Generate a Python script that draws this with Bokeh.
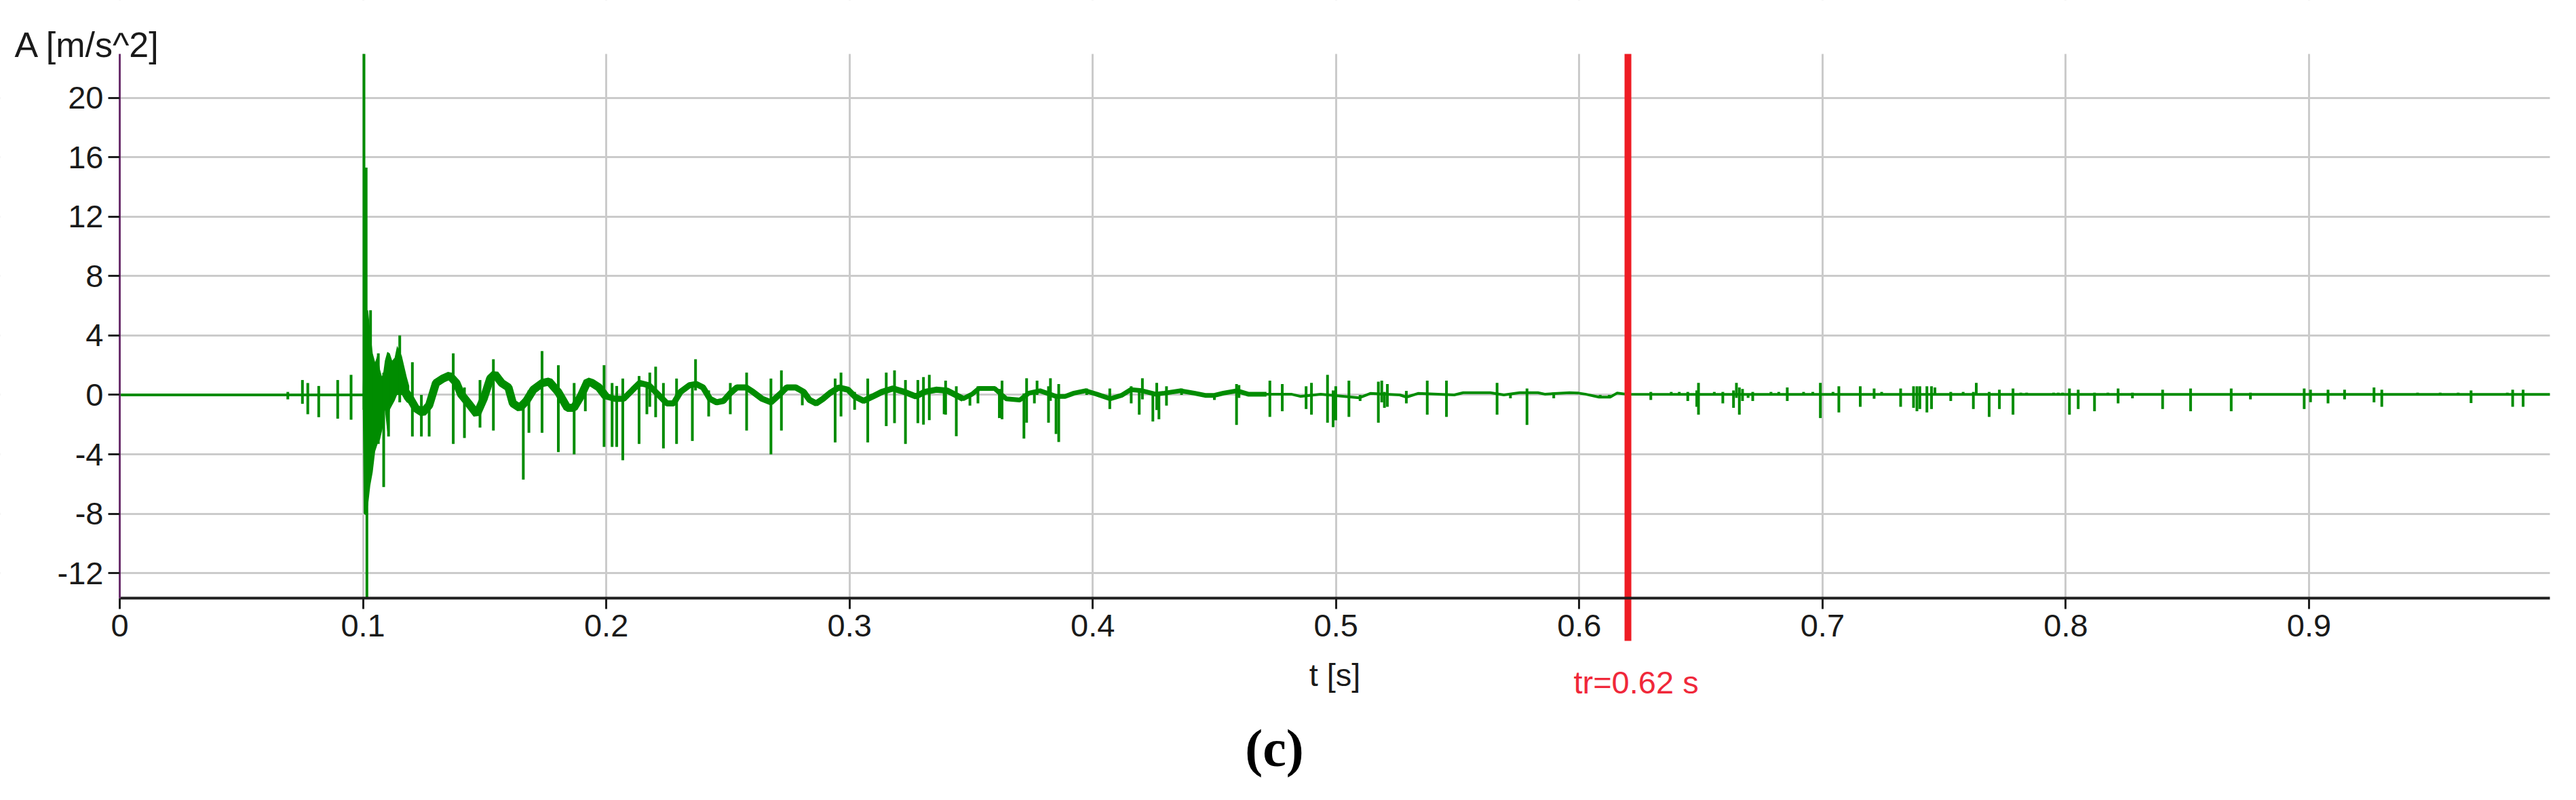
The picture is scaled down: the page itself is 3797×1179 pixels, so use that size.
from bokeh.plotting import figure
from bokeh.models import Range1d, FixedTicker, Label, BoxAnnotation
from bokeh.embed import file_html
from bokeh.resources import INLINE

# ---------------- data ----------------
x_ticks = [0.0, 0.1, 0.2, 0.3, 0.4, 0.5, 0.6, 0.7, 0.8, 0.9]
x_tick_labels = ["0", "0.1", "0.2", "0.3", "0.4", "0.5", "0.6", "0.7", "0.8", "0.9"]
y_ticks = [-12, -8, -4, 0, 4, 8, 12, 16, 20]
y_tick_labels = ["-12", "-8", "-4", "0", "4", "8", "12", "16", "20"]

t_min, t_max = 0.0, 0.999
a_min, a_max = -13.68, 22.95
tr_time = 0.62

# slow baseline of the acceleration signal
base_t = [0.0, 0.0995, 0.1003, 0.1114, 0.1142, 0.1161, 0.1189, 0.1217, 0.1245, 0.1272,
          0.1300, 0.1328, 0.1356, 0.1384, 0.1403, 0.1440, 0.1468, 0.1496, 0.1523, 0.1542,
          0.1570, 0.1598, 0.1616, 0.1644, 0.1672, 0.1700, 0.1737, 0.1765, 0.1802, 0.1840,
          0.1867, 0.1895, 0.1923, 0.1942, 0.1970, 0.1998, 0.2035, 0.2072, 0.2109, 0.2137,
          0.2175, 0.2212, 0.2249, 0.2277, 0.2305, 0.2342, 0.2370, 0.2398, 0.2426, 0.2454,
          0.2482, 0.2510, 0.2537, 0.2575, 0.2603, 0.2640, 0.2677, 0.2714, 0.2742, 0.2779,
          0.2812, 0.2835, 0.2863, 0.2891, 0.2919, 0.2956, 0.2994, 0.3021, 0.3058, 0.3096,
          0.3133, 0.3179, 0.3226, 0.3272, 0.3309, 0.3356, 0.3402, 0.3467, 0.3504, 0.3532,
          0.3597, 0.3644, 0.3700, 0.3737, 0.3783, 0.3849, 0.3886, 0.3923, 0.3970, 0.4016,
          0.4072, 0.4118, 0.4156, 0.4202, 0.4258, 0.4295, 0.4360, 0.4417, 0.4462, 0.4500,
          0.4537, 0.4593, 0.4639, 0.4714, 0.4816, 0.4853, 0.4937, 0.5095, 0.5141, 0.5262,
          0.5290, 0.5337, 0.5486, 0.5523, 0.5634, 0.5690, 0.5755, 0.5830, 0.5858, 0.5960,
          0.5997, 0.6025, 0.6081, 0.6127, 0.6155, 0.6192, 0.6500, 0.7500, 0.8500, 0.9990]
base_a = [0.0, 0.0, 0.0, 1.7, 2.3, 0.5, -0.1, -0.9, -1.2, -0.7,
          0.8, 1.1, 1.3, 0.8, 0.05, -0.7, -1.3, -0.26, 1.1, 1.4,
          0.8, 0.5, -0.57, -0.87, -0.4, 0.35, 0.8, 0.9, 0.2, -0.87,
          -0.87, -0.1, 0.9, 0.8, 0.5, -0.1, -0.26, -0.26, 0.35, 0.8,
          0.65, 0.05, -0.57, -0.57, 0.2, 0.65, 0.73, 0.5, -0.26, -0.5,
          -0.4, 0.12, 0.5, 0.5, 0.2, -0.26, -0.5, 0.05, 0.5, 0.5,
          0.2, -0.33, -0.57, -0.26, 0.12, 0.5, 0.35, -0.1, -0.4, -0.1,
          0.2, 0.43, 0.2, -0.1, 0.2, 0.35, 0.28, -0.26, 0.05, 0.43,
          0.43, -0.26, -0.34, 0.12, 0.28, -0.1, -0.1, 0.12, 0.28, 0.05,
          -0.26, -0.03, 0.35, 0.28, 0.05, 0.12, 0.28, 0.12, -0.03, -0.03,
          0.12, 0.28, 0.05, 0.05, 0.05, -0.1, 0.05, -0.2, 0.1, 0.0,
          -0.15, 0.1, 0.0, 0.15, 0.15, 0.0, 0.15, 0.15, 0.05, 0.15,
          0.12, 0.05, -0.15, -0.15, 0.12, 0.05, 0.03, 0.03, 0.03, 0.03]

# dense impact burst just after t = 0.1 s (upper / lower envelope)
burst_t = [0.0999, 0.1003, 0.1012, 0.1021, 0.1030, 0.1040, 0.1050, 0.1060, 0.1070, 0.1080,
           0.1090, 0.1100, 0.1110, 0.1120, 0.1130, 0.1140, 0.1150, 0.1160, 0.1170, 0.1180, 0.1190]
burst_hi = [0.5, 3.0, 5.7, 5.7, 4.25, 2.8, 2.2, 2.7, 1.7, 1.1,
            2.3, 2.9, 2.8, 2.3, 2.5, 3.3, 3.0, 2.6, 1.9, 1.2, 0.6]
burst_lo = [-0.5, -8.0, -8.1, -7.4, -6.1, -5.2, -3.8, -3.3, -3.0, -2.3,
            -1.0, -2.5, -1.0, -0.7, -0.4, 0.0, 0.0, 0.0, -0.3, -0.5, -0.6]

# individual spikes: time, lowest value, highest value
spike_t = [0.0691, 0.0751, 0.0773, 0.0818, 0.0896, 0.0951,
           0.1004, 0.1013, 0.1016, 0.1031,
           0.1063, 0.1085, 0.1105, 0.1151, 0.1203, 0.1240, 0.1272, 0.1371, 0.1417, 0.1481,
           0.1536, 0.1659, 0.1682, 0.1736, 0.1803, 0.1868, 0.1914, 0.1991,
           0.2024, 0.2043, 0.2068, 0.2135, 0.2167, 0.2179, 0.2203, 0.2235, 0.2289, 0.2354,
           0.2367, 0.2421, 0.2510, 0.2577, 0.2677, 0.2720, 0.2806, 0.2941, 0.2965, 0.3021,
           0.3075, 0.3151, 0.3185, 0.3230, 0.3281, 0.3304, 0.3328, 0.3389,
           0.3395, 0.3439, 0.3495, 0.3528, 0.3616, 0.3627, 0.3717, 0.3728, 0.3760, 0.3771,
           0.3818, 0.3826, 0.3849, 0.3860, 0.3975, 0.4070, 0.4158, 0.4191, 0.4204, 0.4247,
           0.4263, 0.4272, 0.4303, 0.4365, 0.4500, 0.4591, 0.4601, 0.4728, 0.4779,
           0.4877, 0.4899, 0.4965, 0.4988, 0.4999, 0.5053, 0.5099, 0.5174, 0.5188, 0.5199,
           0.5211, 0.5289, 0.5375, 0.5454, 0.5662, 0.5717, 0.5785, 0.5895, 0.6086, 0.6123,
           0.6294, 0.6378, 0.6411, 0.6446, 0.6483, 0.6490, 0.6555, 0.6590, 0.6634, 0.6646,
           0.6658, 0.6671, 0.6694, 0.6713, 0.6788, 0.6820, 0.6855, 0.6922, 0.6960, 0.6991,
           0.7043, 0.7067, 0.7155, 0.7212, 0.7243, 0.7321, 0.7374, 0.7388, 0.7400, 0.7429,
           0.7448, 0.7462, 0.7527, 0.7578, 0.7620, 0.7632, 0.7685,
           0.7727, 0.7783, 0.7815, 0.7839, 0.7950, 0.7969, 0.7987, 0.8015, 0.8051, 0.8118,
           0.8173, 0.8215, 0.8274, 0.8398, 0.8513, 0.8680, 0.8759, 0.8980, 0.9006, 0.9078,
           0.9146, 0.9267, 0.9299, 0.9446, 0.9539, 0.9613, 0.9666, 0.9815, 0.9837, 0.9880]
spike_lo = [-0.3, -0.6, -1.3, -1.5, -1.6, -1.67,
            -1.0, 0.0, -13.68, -1.0,
            -3.3, -6.2, -2.8, -0.5, -2.8, -2.8, -2.8, -3.3, -2.9, -2.2,
            -2.4, -5.7, -2.55, -2.55, -3.85, -4.0, -1.1, -3.5,
            -3.5, -3.5, -4.4, -3.3, -1.3, -0.8, -1.5, -3.6, -3.3, -3.1,
            0.3, -1.45, -1.3, -2.4, -4.0, -2.4, -0.7, -3.2, -1.45, -1.0,
            -3.2, -2.1, -1.9, -3.3, -1.9, -2.0, -1.7, -1.3,
            -1.33, -2.78, -0.72, -0.57, -1.56, -1.64, -2.94, -1.87, -0.57, 0.0,
            -1.87, -0.4, -2.63, -3.17, 0.0, -0.95, -0.57, -1.33, -0.3, -1.79,
            -1.02, -1.64, -0.72, 0.0, -0.34, -2.02, -0.2, -1.48, -1.1,
            -0.95, -1.33, -1.87, -2.17, -1.71, -1.48, -0.41, -1.87, -0.5, -0.87,
            -0.8, -0.57, -1.33, -1.48, -1.33, -0.23, -2.02, -0.23, -0.23, -0.23,
            -0.34, 0.0, 0.0, -0.41, -0.8, -1.33, 0.0, -0.57, -0.87, -0.2,
            -1.33, -0.41, -0.2, -0.41, 0.0, 0.0, -0.41, 0.0, 0.0, -1.56,
            0.0, -1.18, -0.8, -0.26, 0.0, -0.8, -0.87, -1.1, -0.95, -1.18,
            -0.95, 0.0, -0.41, 0.0, -0.95, 0.0, -1.48,
            -0.95, -1.33, 0.0, 0.0, 0.0, 0.0, 0.0, -1.33, -0.95, -1.1,
            0.0, -0.57, -0.23, -0.95, -1.1, -1.1, -0.3, -0.95, -0.49, -0.57,
            -0.3, -0.5, -0.8, 0.0, 0.0, 0.0, -0.55, 0.0, -0.8, -0.8]
spike_hi = [0.2, 1.0, 0.8, 0.6, 1.0, 1.35,
            22.95, 15.3, 0.0, 5.7,
            2.8, 1.5, 2.0, 4.0, 2.2, 0.0, -0.3, 2.8, 0.5, 1.0,
            2.4, -0.5, 0.3, 2.95, 2.0, 0.8, 0.9, 2.0,
            0.8, 0.6, 1.1, 1.27, 0.8, 1.5, 1.9, 0.8, 1.1, 0.5,
            2.4, 0.3, 0.8, 1.5, 1.1, 1.65, 0.3, 1.1, 1.5, 0.2,
            1.1, 1.5, 1.65, 1.0, 1.0, 1.2, 1.35, 0.5,
            0.96, 0.58, 0.1, 0.58, 0.4, 0.96, 0.1, 1.12, 0.3, 0.96,
            0.58, 1.12, 0.0, 0.73, 0.43, 0.43, 0.58, 0.2, 1.12, 0.2,
            0.81, 0.2, 0.58, 0.43, 0.0, 0.73, 0.66, 0.96, 0.73,
            0.58, 0.81, 1.35, 0.3, 0.58, 0.96, 0.0, 0.89, 0.96, 0.2,
            0.73, 0.27, 0.96, 0.96, 0.81, 0.0, 0.43, 0.0, 0.0, 0.0,
            0.2, 0.2, 0.2, 0.2, 0.3, 0.81, 0.2, 0.2, 0.3, 0.81,
            0.5, 0.4, 0.0, 0.2, 0.2, 0.2, 0.5, 0.2, 0.2, 0.81,
            0.2, 0.58, 0.58, 0.43, 0.2, 0.43, 0.58, 0.58, 0.58, 0.58,
            0.58, 0.5, 0.2, 0.2, 0.2, 0.81, 0.2,
            0.35, 0.43, 0.15, 0.15, 0.15, 0.15, 0.15, 0.43, 0.35, 0.15,
            0.15, 0.43, 0.15, 0.35, 0.43, 0.43, 0.15, 0.43, 0.35, 0.35,
            0.35, 0.5, 0.35, 0.15, 0.15, 0.15, 0.3, 0.15, 0.35, 0.35]

# ---------------- styling ----------------
GREEN = "#008c00"
RED = "#ee1c24"
FONT = "Liberation Sans"
TEXT = "#1a1a1a"

W, H = 3781, 1160
# plot area in canvas pixels (canvas starts at the 8px page margin)
L_PX, R_PX, T_PX, B_PX = 176, 3758, 79, 881
sx = (R_PX - L_PX) / (t_max - t_min)
sy = (B_PX - T_PX) / (a_max - a_min)
x_rng = Range1d(t_min - L_PX / sx, t_max + (W - R_PX) / sx)
y_rng = Range1d(a_min - (H - B_PX) / sy, a_max + T_PX / sy)

p = figure(width=W, height=H, x_range=x_rng, y_range=y_rng, title=None,
           output_backend="svg", toolbar_location=None,
           min_border=0, min_border_left=0, min_border_right=0,
           min_border_top=0, min_border_bottom=0)
p.outline_line_color = None
p.background_fill_color = "white"
p.border_fill_color = "white"

# grid (limited to the plotting rectangle by white masks below)
p.xgrid.ticker = FixedTicker(ticks=x_ticks)
p.ygrid.ticker = FixedTicker(ticks=y_ticks)
p.grid.grid_line_color = "#cbcbcb"
p.grid.grid_line_width = 3
for kw in (dict(bottom=a_max), dict(top=a_min), dict(right=t_min), dict(left=t_max)):
    p.add_layout(BoxAnnotation(fill_color="white", fill_alpha=1.0, line_alpha=0.0,
                               level="underlay", **kw))

# x axis
xa = p.xaxis[0]
xa.fixed_location = a_min
xa.bounds = (t_min, t_max)
xa.ticker = FixedTicker(ticks=x_ticks)
xa.major_label_overrides = {t: s for t, s in zip(x_ticks, x_tick_labels)}
xa.axis_line_color = "#1e1e1e"
xa.axis_line_width = 4
xa.major_tick_line_color = "#1e1e1e"
xa.major_tick_line_width = 3
xa.major_tick_in = 0
xa.major_tick_out = 16
xa.minor_tick_line_color = None
xa.major_label_text_font = FONT
xa.major_label_text_font_size = "47px"
xa.major_label_text_color = TEXT
xa.major_label_standoff = 8
xa.axis_label = "t [s]"
xa.axis_label_text_font = FONT
xa.axis_label_text_font_size = "47px"
xa.axis_label_text_font_style = "normal"
xa.axis_label_text_color = TEXT
xa.axis_label_standoff = 27

# y axis
ya = p.yaxis[0]
ya.fixed_location = t_min
ya.bounds = (a_min, a_max)
ya.ticker = FixedTicker(ticks=y_ticks)
ya.major_label_overrides = {t: s for t, s in zip(y_ticks, y_tick_labels)}
ya.axis_line_color = "#6a2f6c"
ya.axis_line_width = 3
ya.major_tick_line_color = "#1e1e1e"
ya.major_tick_line_width = 3
ya.major_tick_in = 0
ya.major_tick_out = 17
ya.minor_tick_line_color = None
ya.major_label_text_font = FONT
ya.major_label_text_font_size = "47px"
ya.major_label_text_color = TEXT
ya.major_label_standoff = 7

# ---------------- signal ----------------
p.line(base_t, base_a, line_color=GREEN, line_width=4)
early = [i for i, t in enumerate(base_t) if 0.11 <= t <= 0.2]
p.line([base_t[i] for i in early], [base_a[i] for i in early], line_color=GREEN, line_width=12)
mid = [i for i, t in enumerate(base_t) if 0.19 <= t <= 0.35]
p.line([base_t[i] for i in mid], [base_a[i] for i in mid], line_color=GREEN, line_width=9)
late = [i for i, t in enumerate(base_t) if 0.34 <= t <= 0.48]
p.line([base_t[i] for i in late], [base_a[i] for i in late], line_color=GREEN, line_width=7)

p.varea(x=burst_t, y1=burst_lo, y2=burst_hi, fill_color=GREEN)
p.segment(x0=spike_t, y0=spike_lo, x1=spike_t, y1=spike_hi, line_color=GREEN, line_width=4)

# ---------------- tr marker (runs a little below the time axis) ----------------
tr_bottom = a_min - 63 / sy
p.segment(x0=[tr_time], y0=[a_max], x1=[tr_time], y1=[tr_bottom],
          line_color=RED, line_width=10)
p.add_layout(Label(x=tr_time + 12 / sx, y=a_min - 124 / sy, text="tr=0.62 s",
                   text_align="center", text_baseline="alphabetic",
                   text_font=FONT, text_font_size="47px", text_color="#f0283a"))

# ---------------- texts around the plot ----------------
p.add_layout(Label(x=t_min - 155 / sx, y=a_max + 14 / sy, text="A [m/s^2]",
                   text_align="left", text_baseline="alphabetic",
                   text_font=FONT, text_font_size="52px", text_color=TEXT))
p.add_layout(Label(x=t_min + 1702 / sx, y=a_min - 221 / sy, text="(c)",
                   text_align="center", text_baseline="alphabetic",
                   text_font="Liberation Serif", text_font_size="78px",
                   text_font_style="bold", text_color="black"))

open("out.html", "w").write(file_html(p, INLINE))
